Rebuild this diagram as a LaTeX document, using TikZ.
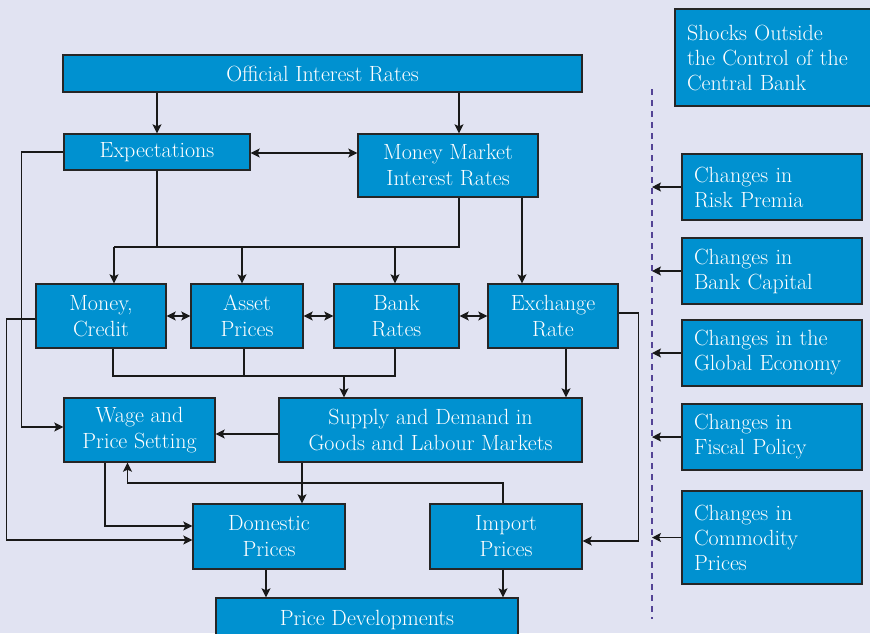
\documentclass[tikz,border=0pt]{standalone}
\usepackage{fontspec}
\usetikzlibrary{arrows.meta}

\definecolor{bgcol}{RGB}{225,227,242}
\definecolor{boxcol}{RGB}{0,145,208}
\definecolor{dashcol}{RGB}{84,68,150}

\begin{document}
\begin{tikzpicture}[%
	x=1pt,y=-1pt,>={Stealth[length=9pt,width=9pt,inset=2pt]},
	every node/.style={font=\fontsize{22}{26}\selectfont},
	box/.style={draw=black!85,line width=1.4pt,fill=boxcol,text=white,
		align=center,inner sep=0pt},
	shock/.style={box,align=left,text width=156pt,inner xsep=12pt,
		inner ysep=0pt,font=\fontsize{22}{25}\selectfont},
	link/.style={line width=1.1pt,black!90}]

	\useasboundingbox (0,0) rectangle (870,633);
	\fill[bgcol] (0,0) rectangle (870,633);

	\node[box,minimum width=519pt,minimum height=37pt]	(oir)	at (322.5,73.5)	{Official Interest Rates};
	\node[box,minimum width=186pt,minimum height=36pt]	(expe)	at (157,152)	{Expectations};
	\node[box,minimum width=180pt,minimum height=63pt]	(mmir)	at (448,165.5)	{Money Market\\Interest Rates};

	\node[box,minimum width=130pt,minimum height=64pt]	(mc)	at (101,316)	{Money,\\Credit};
	\node[box,minimum width=112pt,minimum height=64pt]	(ap)	at (247,316)	{Asset\\Prices};
	\node[box,minimum width=125pt,minimum height=64pt]	(br)	at (396.5,316)	{Bank\\Rates};
	\node[box,minimum width=130pt,minimum height=64pt]	(er)	at (553,316)	{Exchange\\Rate};

	\node[box,minimum width=151pt,minimum height=64pt]	(wps)	at (139.5,430)	{Wage and\\Price Setting};
	\node[box,minimum width=303pt,minimum height=64pt]	(sdm)	at (430.5,430)	{Supply and Demand in\\Goods and Labour Markets};

	\node[box,minimum width=152pt,minimum height=65pt]	(dp)	at (269,536.5)	{Domestic\\Prices};
	\node[box,minimum width=152pt,minimum height=65pt]	(ip)	at (506,536.5)	{Import\\Prices};
	\node[box,minimum width=302pt,minimum height=40pt,text depth=0pt]	(pd)	at (367,618)	{Price Developments};

	\node[shock,text width=172pt,minimum height=97pt]	(soc)	at (773,57.5)	{Shocks Outside\\the Control of the\\Central Bank};
	\node[shock,minimum height=66pt]	(risk)	at (772,187)	{Changes in\\Risk Premia};
	\node[shock,minimum height=66pt]	(bcap)	at (772,271)	{Changes in\\Bank Capital};
	\node[shock,minimum height=66pt]	(glob)	at (772,353)	{Changes in the\\Global Economy};
	\node[shock,minimum height=66pt]	(fisc)	at (772,437)	{Changes in\\Fiscal Policy};
	\node[shock,minimum height=93pt]	(comm)	at (772,537.5)	{Changes in\\Commodity\\Prices};

	% junctions
	\coordinate (ja) at (114,247);
	\coordinate (jb) at (344,376);
	\coordinate (jc) at (127.5,483);
	\coordinate (dtop) at (652,89);
	\coordinate (dbot) at (652,619);

	\draw[dashcol,line width=1.2pt,dash pattern=on 6pt off 5pt] (dtop) -- (dbot);
	\foreach \s in {risk,bcap,glob,fisc,comm}
		\draw[link,->] (\s.west) -- (\s.west -| dtop);

	\draw[link,->] (oir.south -| expe.north) -- (expe.north);
	\draw[link,->] ([xshift=11pt]mmir.north |- oir.south) -- ([xshift=11pt]mmir.north);
	\draw[link,<->] ([yshift=-1pt]expe.east) -- ([yshift=-1pt]expe.east -| mmir.west);

	\draw[link] (expe.south) -- (expe.south |- ja);
	\draw[link] ([xshift=11pt]mmir.south) |- (ja);
	\draw[link,->] (ja) -- (ja |- mc.north);
	\draw[link,->] ([xshift=-5pt]ap.north |- ja) -- ([xshift=-5pt]ap.north);
	\draw[link,->] ([xshift=-1.5pt]br.north |- ja) -- ([xshift=-1.5pt]br.north);
	\draw[link,->] ([xshift=74pt]mmir.south) -- ([xshift=74pt]mmir.south |- er.north);

	\draw[link,<->] (mc.east) -- (ap.west);
	\draw[link,<->] (ap.east) -- (br.west);
	\draw[link,<->] (br.east) -- (er.west);

	\draw[link,->] (expe.west) -- ++(-42,0) |- ([yshift=3pt]wps.west);
	\draw[link,->] ([yshift=-3pt]mc.west) -- ++(-29,0) |- ([yshift=-3.5pt]dp.west);

	\draw[link] ([xshift=12pt]mc.south) |- (jb) -| ([xshift=-1.5pt]br.south);
	\draw[link] ([xshift=-3pt]ap.south) -- ([xshift=-3pt]ap.south |- jb);
	\draw[link,->] (jb) -- (jb |- sdm.north);
	\draw[link,->] ([xshift=13pt]er.south) -- ([xshift=13pt]er.south |- sdm.north);
	\draw[link,->] ([yshift=3pt]er.east) -- ++(20,0) |- ([yshift=-4.5pt]ip.east);

	\draw[link,->] ([yshift=-4pt]sdm.west) -- ([yshift=-4pt]sdm.west -| wps.east);
	\draw[link,->] ([xshift=33pt]dp.north |- sdm.south) -- ([xshift=33pt]dp.north);
	\draw[link,->] ([xshift=-34.5pt]wps.south) |- ([yshift=10.5pt]dp.west);
	\draw[link,->] ([xshift=-3pt]ip.north) |- (jc) -- (jc |- wps.south);

	\draw[link,->] ([xshift=-3pt]dp.south) -- ([xshift=-3pt]dp.south |- pd.north);
	\draw[link,->] ([xshift=-3pt]ip.south) -- ([xshift=-3pt]ip.south |- pd.north);

\end{tikzpicture}
\end{document}
